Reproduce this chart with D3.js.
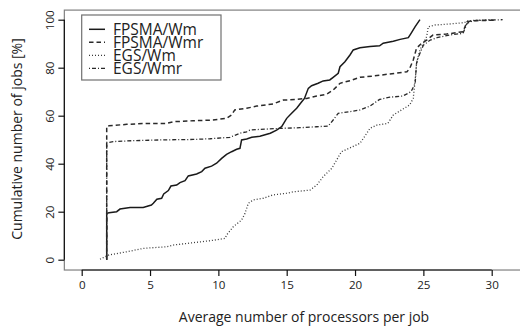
<!DOCTYPE html>
<html>
<head>
<meta charset="utf-8">
<script src="https://cdn.jsdelivr.net/npm/d3@7"></script>
<style>
	body { margin: 0; background: #fff; }
	svg { display: block; font-family: "Open Sans", sans-serif; }
</style>
</head>
<body>
<div id="chart"></div>
<script>
// cumulative curves: [avg processors, % of jobs]
var fpsmaWm = [[1.83,0],[1.83,19.3],[2.0,19.6],[2.56,20],[2.8,21.1],[3.54,21.7],[4.5,21.8],[5.1,22.8],[5.24,23.5],[5.5,25.2],[5.85,25.6],[6.0,27.4],[6.34,28.8],[6.53,30.7],[6.95,31.1],[7.19,32.1],[7.56,32.9],[7.8,34.9],[8.41,35.7],[8.78,36.7],[9.02,38.1],[9.5,39],[9.87,40.2],[10.24,42.2],[10.6,43.9],[10.97,45],[11.34,46],[11.58,46.4],[11.7,49.9],[12.07,50.3],[12.44,51],[13.04,51.4],[13.8,52.7],[14.26,54],[14.63,55.4],[15,58.9],[15.36,61],[15.73,63.1],[16.1,65.8],[16.3,67.2],[16.58,71.4],[16.82,72.5],[17.3,73.5],[17.67,74.5],[18.15,74.9],[18.4,76],[18.77,77.7],[18.9,80.4],[19.26,82.5],[19.63,85.3],[19.87,87.4],[20.36,88.3],[21.1,88.8],[21.8,89.1],[22.06,90.2],[22.8,91],[23.3,91.8],[23.9,92.5],[24.1,94.3],[24.4,97.1],[24.75,100]];

var fpsmaWmr = [[1.83,0],[1.83,55.6],[2.0,55.8],[3.3,56.4],[4.75,56.8],[6.2,56.8],[6.7,57.5],[8.16,57.9],[9.6,58.2],[10.6,58.9],[10.97,60.3],[11.2,62.4],[12.07,63.1],[12.8,64],[14.0,64.9],[14.75,66.5],[15.73,66.8],[16.46,67.2],[17.2,68.2],[17.9,68.9],[18.4,70.7],[18.9,73.5],[19.63,74.6],[20.36,76],[21.3,76.5],[22.55,77.4],[23.8,78.3],[24.0,79.7],[24.26,83.2],[24.5,88.1],[24.87,90.2],[25.24,91.5],[25.7,93.6],[26.7,94],[27.9,95],[28.2,99.2],[28.65,99.6],[30.36,99.8]];

var egsWm = [[1.34,0.2],[2.0,2.0],[3.3,3.3],[4.5,4.7],[6.2,5.4],[6.7,6.1],[8.16,7.1],[9.4,7.9],[10.5,8.9],[10.6,10.3],[11.1,13.8],[11.7,16.5],[11.95,19.3],[12.19,23.5],[12.55,24.9],[13.3,25.6],[14.0,27],[15.0,27.7],[15.5,28.3],[16.7,29],[17.2,31.1],[17.67,34.6],[18.3,38.1],[18.65,41.5],[19.0,45],[19.6,46.5],[20.36,48.5],[20.7,51.3],[21.1,54.8],[21.6,56.1],[22.4,56.8],[22.8,60.3],[23.4,62.4],[24.0,64.5],[24.26,67.2],[24.4,74.9],[24.5,81.8],[24.75,87.4],[25.24,92.9],[25.36,97.1],[25.85,97.8],[26.9,98.2],[28.0,98.8],[28.3,99.6],[30.2,100]];

var egsWmr = [[1.83,0],[1.83,48.9],[2.0,48.9],[2.3,49.2],[3.8,49.6],[5.7,49.9],[8.16,50.1],[9.4,50.4],[10.85,51],[11.58,52.7],[12.07,53.3],[12.3,54],[13.04,54.3],[14.5,54.7],[15.97,55],[17.2,55.4],[18.04,55.7],[18.4,58.2],[18.77,61],[19.63,61.7],[20.36,62.4],[21.1,64],[21.8,66.8],[22.55,67.7],[23.5,68.2],[24.1,70],[24.4,73.5],[24.5,81.8],[24.6,83.9],[25.0,89.4],[25.5,91.5],[26.0,92.5],[26.9,93.6],[27.9,94.3],[28.2,98.5],[28.65,99.6],[30.8,100]];

var seriesNames = ['FPSMA/Wm', 'FPSMA/Wmr', 'EGS/Wm', 'EGS/Wmr'];
var xTicks = [0, 5, 10, 15, 20, 25, 30];
var yTicks = [0, 20, 40, 60, 80, 100];

var width = 520, height = 328;

var x = d3.scaleLinear().domain([0, 30]).range([81.7, 491.7]);
var y = d3.scaleLinear().domain([0, 100]).range([259.7, 19.7]);

var svg = d3.select('#chart').append('svg')
	.attr('width', width)
	.attr('height', height);

// plot box (runs off the right edge like the original)
var box = { left: x(-1.27), top: y(104), bottom: y(-4.3), right: x(32.3) };
svg.append('rect')
	.attr('x', box.left)
	.attr('y', box.top)
	.attr('width', box.right - box.left)
	.attr('height', box.bottom - box.top)
	.attr('fill', 'none')
	.attr('stroke', '#808080')
	.attr('stroke-width', 1.2);

// axes
var xAxis = svg.append('g')
	.attr('transform', 'translate(0,' + box.bottom + ')')
	.call(d3.axisBottom(x).tickValues(xTicks).tickSize(6).tickSizeOuter(0).tickPadding(5));
var yAxis = svg.append('g')
	.attr('transform', 'translate(' + box.left + ',0)')
	.call(d3.axisLeft(y).tickValues(yTicks).tickSize(6).tickSizeOuter(0).tickPadding(5));

[xAxis, yAxis].forEach(function (a) {
	a.select('.domain').attr('stroke', '#111').attr('stroke-width', 1.2);
	a.selectAll('.tick line').attr('stroke', '#111').attr('stroke-width', 1.2);
	a.selectAll('.tick text').attr('fill', '#222').style('font-size', '11.6px').style('font-family', '"Open Sans", sans-serif');
});
// R draws the axis line only between the first and last tick
xAxis.select('.domain').attr('d', 'M' + x(0) + ',0H' + x(30));
yAxis.select('.domain').attr('d', 'M0,' + y(0) + 'V' + y(100));

// y tick labels are parallel to the axis
yAxis.selectAll('.tick text')
	.attr('x', null).attr('dy', null)
	.attr('text-anchor', 'middle')
	.attr('transform', 'translate(-10,0) rotate(-90)');

// lines
var line = d3.line()
	.x(function (d) { return x(d[0]); })
	.y(function (d) { return y(d[1]); });

var styles = [
	{ dash: null, color: '#1a1a1a', w: 1.5 },
	{ dash: '4.5,3', color: '#2a2a2a', w: 1.5 },
	{ dash: '1,2', color: '#3a3a3a', w: 1.3 },
	{ dash: '1,2,4,2', color: '#2a2a2a', w: 1.3 }
];
var allSeries = [fpsmaWm, fpsmaWmr, egsWm, egsWmr];

allSeries.forEach(function (s, i) {
	svg.append('path')
		.datum(s)
		.attr('d', line)
		.attr('fill', 'none')
		.attr('stroke', styles[i].color)
		.attr('stroke-width', styles[i].w)
		.attr('stroke-dasharray', styles[i].dash);
});

// legend
var legend = svg.append('g');
legend.append('rect')
	.attr('x', 81.7).attr('y', 15)
	.attr('width', 139.3).attr('height', 65)
	.attr('fill', '#fff')
	.attr('stroke', '#707070')
	.attr('stroke-width', 1.2);

seriesNames.forEach(function (name, i) {
	var ly = 29.3 + i * 13;
	legend.append('line')
		.attr('x1', 89).attr('x2', 105)
		.attr('y1', ly).attr('y2', ly)
		.attr('stroke', styles[i].color)
		.attr('stroke-width', styles[i].w)
		.attr('stroke-dasharray', styles[i].dash);
	legend.append('text')
		.attr('x', 113).attr('y', ly + 5.4)
		.attr('fill', '#222')
		.style('font-size', '15.5px')
		.text(name);
});

// axis titles
svg.append('text')
	.attr('x', 304).attr('y', 321.7)
	.attr('text-anchor', 'middle')
	.attr('fill', '#222')
	.style('font-size', '14px')
	.text('Average number of processors per job');

svg.append('text')
	.attr('transform', 'translate(22,139) rotate(-90)')
	.attr('text-anchor', 'middle')
	.attr('fill', '#222')
	.style('font-size', '14px')
	.text('Cumulative number of  jobs [%]');
</script>
</body>
</html>
